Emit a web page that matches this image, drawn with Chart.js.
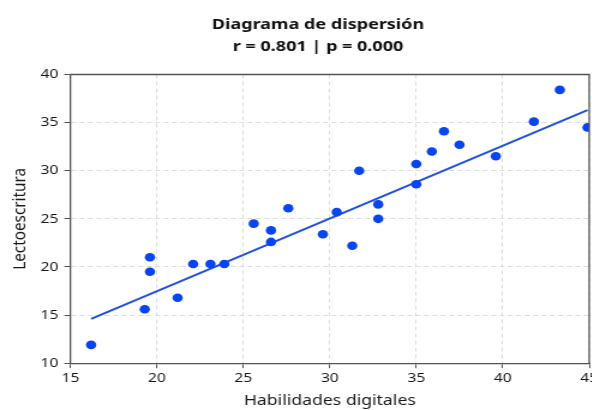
<!DOCTYPE html>
<html>
<head>
<meta charset="utf-8">
<script src="https://cdn.jsdelivr.net/npm/chart.js@4.4.0/dist/chart.umd.min.js"></script>
<style>
  html, body { margin: 0; padding: 0; background: #fff; overflow: hidden; width: 592px; height: 410px; }
  #wrap { width: 526px; height: 410px; position: relative; transform: scaleX(1.2); transform-origin: 0 0; }
</style>
</head>
<body>
<div id="wrap"><canvas id="c"></canvas></div>
<script>
const titleLines = ["Diagrama de dispersión", "r = 0.801 | p = 0.000"];
const xLabel = "Habilidades digitales";
const yLabel = "Lectoescritura";

const habilidades = [16.2, 19.3, 19.6, 19.6, 21.2, 22.1, 23.1, 23.9, 25.6, 26.6, 26.6, 27.6, 29.6, 30.4, 31.3, 31.7, 32.8, 32.8, 35.0, 35.0, 35.9, 36.6, 37.5, 39.6, 41.8, 43.3, 44.9];
const lectoescritura = [11.9, 15.6, 21.0, 19.5, 16.8, 20.3, 20.3, 20.3, 24.5, 23.8, 22.6, 26.1, 23.4, 25.7, 22.2, 30.0, 26.5, 25.0, 30.7, 28.6, 32.0, 34.1, 32.7, 31.5, 35.1, 38.4, 34.5];

const fitX = [16.2, 44.9];
const fitY = [14.6, 36.3];

const xTicksRange = [15, 45, 5];
const yTicksRange = [10, 40, 5];

const pts = habilidades.map((x, i) => ({ x: x, y: lectoescritura[i] }));
const fit = fitX.map((x, i) => ({ x: x, y: fitY[i] }));

const frame = {
  id: 'frame',
  afterDatasetsDraw(chart) {
    const { ctx, chartArea: a } = chart;
    ctx.save();
    ctx.strokeStyle = '#555';
    ctx.lineWidth = 1.3;
    ctx.beginPath();
    ctx.moveTo(a.left, a.top);
    ctx.lineTo(a.right, a.top);
    ctx.lineTo(a.right, a.bottom);
    ctx.stroke();
    ctx.restore();
  }
};

const font = "'Noto Sans', 'Open Sans', sans-serif";

new Chart(document.getElementById('c'), {
  type: 'scatter',
  data: {
    datasets: [
      {
        type: 'line',
        data: fit,
        borderColor: '#1f50e0',
        borderWidth: 2,
        pointRadius: 0,
        fill: false,
        order: 2
      },
      {
        data: pts,
        backgroundColor: '#0844f2',
        borderColor: '#0844f2',
        pointRadius: 4.3,
        pointBorderWidth: 0,
        order: 1
      }
    ]
  },
  plugins: [frame],
  options: {
    responsive: true,
    maintainAspectRatio: false,
    animation: false,
    layout: { padding: { top: 0, right: 0, left: 4, bottom: 0 } },
    plugins: {
      legend: { display: false },
      tooltip: { enabled: false },
      title: {
        display: true,
        text: titleLines,
        color: '#111',
        font: { family: font, size: 15, weight: 'bold', lineHeight: 1.5 },
        padding: { top: 13, bottom: 16.5 }
      }
    },
    scales: {
      x: {
        type: 'linear',
        min: xTicksRange[0],
        max: xTicksRange[1],
        afterFit(scale) { scale.paddingRight = 35; },
        ticks: { stepSize: xTicksRange[2], color: '#1a1a1a', font: { family: font, size: 13 }, padding: 2 },
        grid: { color: '#dcdcdc', lineWidth: 1, tickColor: '#555', tickLength: 5 },
        border: { color: '#555', width: 1.3, dash: [4, 3] },
        title: { display: true, text: xLabel, color: '#1a1a1a', font: { family: font, size: 14.7 }, padding: { top: 4.6, bottom: 0 } }
      },
      y: {
        type: 'linear',
        min: yTicksRange[0],
        max: yTicksRange[1],
        ticks: { stepSize: yTicksRange[2], color: '#1a1a1a', font: { family: font, size: 13 }, padding: 5 },
        grid: { color: '#dcdcdc', lineWidth: 1, tickColor: '#555', tickLength: 5 },
        border: { color: '#555', width: 1.3, dash: [4, 3] },
        title: { display: true, text: yLabel, color: '#1a1a1a', font: { family: font, size: 15.3 }, padding: { top: 3.7, bottom: 2.7 } }
      }
    }
  }
});
</script>
</body>
</html>
